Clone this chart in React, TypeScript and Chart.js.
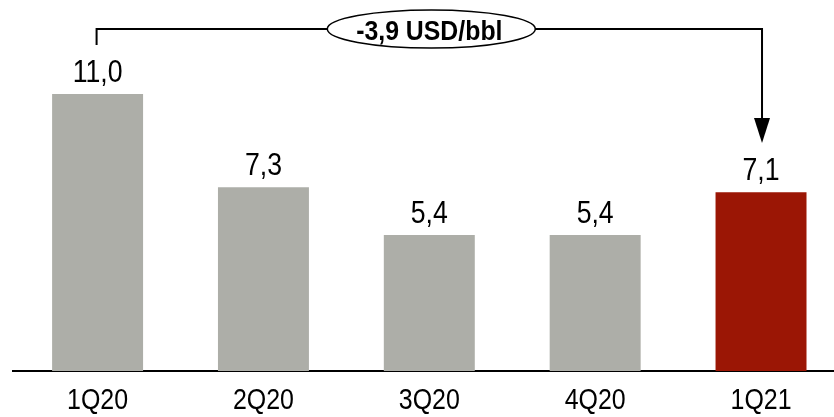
import React, { useEffect, useRef } from "react";
import { Chart, registerables } from "chart.js";

Chart.register(...registerables);

const categories = ["1Q20", "2Q20", "3Q20", "4Q20", "1Q21"];
const values = [11.0, 7.3, 5.4, 5.4, 7.1];
const barColors = ["#ADAEA8", "#ADAEA8", "#ADAEA8", "#ADAEA8", "#9B1605"];
const deltaLabel = "-3,9 USD/bbl";

const FONT = '"Liberation Sans", Arial, sans-serif';
const NARROW_RATIO = 0.86;

const fmt = (v: number) => v.toFixed(1).replace(".", ",");

const overlayPlugin = {
  id: "overlay",
  beforeDraw(chart: any) {
    // condense x tick labels like Arial Narrow
    const xs = chart.scales.x;
    const ctx = chart.ctx;
    ctx.save();
    const items = xs.getLabelItems();
    items.forEach((it: any) => {
      ctx.font = it.font.string;
      it.options.maxWidth = ctx.measureText(String(it.label)).width * NARROW_RATIO;
    });
    ctx.restore();
  },
  afterDraw(chart: any) {
    const ctx = chart.ctx;
    const meta = chart.getDatasetMeta(0);
    const bars = meta.data;
    ctx.save();
    // value labels
    ctx.fillStyle = "#000";
    ctx.font = `31px ${FONT}`;
    ctx.textAlign = "center";
    ctx.textBaseline = "alphabetic";
    bars.forEach((b: any, i: number) => {
      const t = fmt(values[i]);
      ctx.fillText(t, b.x, b.y - 12, ctx.measureText(t).width * NARROW_RATIO);
    });

    // bracket
    const first = bars[0];
    const last = bars[bars.length - 1];
    const lineY = 29;
    const x1 = first.x - 1;
    const x2 = last.x + 1;
    ctx.strokeStyle = "#000";
    ctx.lineWidth = 2;
    ctx.beginPath();
    ctx.moveTo(x1, 45);
    ctx.lineTo(x1, lineY);
    ctx.lineTo(x2, lineY);
    ctx.lineTo(x2, 120);
    ctx.stroke();
    // arrow head
    ctx.fillStyle = "#000";
    ctx.beginPath();
    ctx.moveTo(x2 - 8, 118);
    ctx.lineTo(x2 + 8, 118);
    ctx.lineTo(x2, 143);
    ctx.closePath();
    ctx.fill();

    // ellipse label
    const cx = (x1 + x2) / 2 + 2;
    ctx.beginPath();
    ctx.ellipse(cx, lineY, 104, 19, 0, 0, Math.PI * 2);
    ctx.fillStyle = "#fff";
    ctx.fill();
    ctx.lineWidth = 1.5;
    ctx.stroke();
    ctx.fillStyle = "#000";
    ctx.font = `bold 27px ${FONT}`;
    ctx.textBaseline = "alphabetic";
    ctx.fillText(deltaLabel, cx - 2, lineY + 11, ctx.measureText(deltaLabel).width * 0.92);
    ctx.restore();
  },
};

export default function App() {
  const ref = useRef<HTMLCanvasElement | null>(null);

  useEffect(() => {
    if (!ref.current) return;
    const chart = new Chart(ref.current, {
      type: "bar",
      data: {
        datasets: [
          {
            data: values.map((v, i) => ({ x: i, y: v })),
            backgroundColor: barColors,
            borderWidth: 0,
            categoryPercentage: 1,
            barPercentage: 0.5485,
          },
        ],
      },
      options: {
        animation: false,
        responsive: true,
        maintainAspectRatio: false,
        layout: { padding: { left: 13, right: 0, top: 0, bottom: 0 } },
        plugins: {
          legend: { display: false },
          tooltip: { enabled: false },
        },
        scales: {
          x: {
            type: "linear",
            min: -0.51,
            max: 4.44,
            offset: false,
            bounds: "data",
            z: 1,
            grid: { display: false, drawTicks: false },
            border: { display: true, color: "#000", width: 2 },
            afterBuildTicks: (scale: any) => {
              scale.ticks = categories.map((_, i) => ({ value: i }));
            },
            afterFit: (scale: any) => {
              scale.height = 46;
            },
            ticks: {
              padding: 13,
              color: "#000",
              autoSkip: false,
              maxRotation: 0,
              font: { family: FONT, size: 29 },
              callback: (_v: any, i: number) => categories[i],
            },
          },
          y: {
            display: false,
            min: 0,
            max: 14.73,
          },
        },
      },
      plugins: [overlayPlugin],
    } as any);
    return () => chart.destroy();
  }, []);

  return (
    <div style={{ position: "fixed", left: 0, top: 0, width: 834, height: 417, background: "#fff" }}>
      <canvas ref={ref} />
    </div>
  );
}
